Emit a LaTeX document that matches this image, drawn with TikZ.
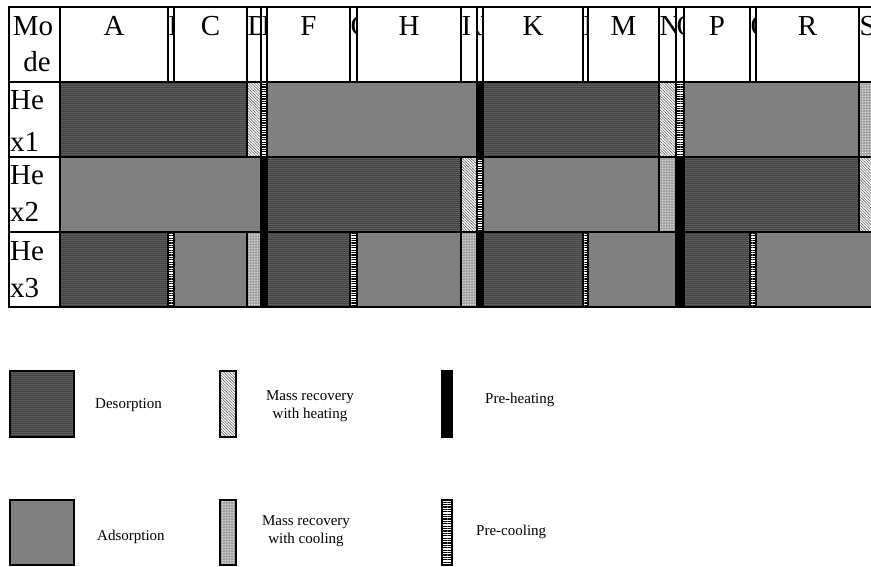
\documentclass[tikz,border=0pt]{standalone}
\usepackage{fontspec}
\setmainfont{Liberation Serif}
\usetikzlibrary{patterns.meta}

\tikzset{
  cell/.style={draw=black, line width=1.4pt},
  des/.style={fill=black!80,
    postaction={pattern={Dots[distance=2pt,radius=0.5pt]}, pattern color=white},
    postaction={draw=black, line width=1.4pt}},
  ads/.style={fill=black!50, draw=black, line width=1.4pt},
  mrheat/.style={fill=white,
    postaction={pattern={Lines[angle=-45,distance=2pt,line width=0.6pt]}, pattern color=black!60},
    postaction={draw=black, line width=1.4pt}},
  mrcool/.style={fill=black!40,
    postaction={pattern={Dots[distance=1.6pt,radius=0.45pt]}, pattern color=white},
    postaction={draw=black, line width=1.4pt}},
  preheat/.style={fill=black, draw=black, line width=1.4pt},
  precool/.style={fill=white,
    postaction={pattern={Lines[angle=0,distance=2.4pt,line width=1.1pt]}, pattern color=black},
    postaction={draw=black, line width=1.4pt}},
  bigtxt/.style={font=\fontsize{29}{35}\selectfont},
  legtxt/.style={font=\fontsize{15}{18}\selectfont, align=center},
}

\begin{document}
\begin{tikzpicture}[x=1pt, y=-1pt, every node/.style={inner sep=0pt}]
    \clip (0,0) rectangle (871,567);

    % ---------------- HEADER ROW ----------------
    \draw[cell] (9,7) rectangle (60,82);
    \node[bigtxt, anchor=base] (mo) at (33,36) {Mo};
    \node[bigtxt, anchor=base] (de) at (37,72) {de};

    \foreach \name/\xl/\xr in {A/60/168, C/174/247, F/267/350, H/357/461,
                               K/483/583, M/588/659, P/684/750, R/756/859} {
        \draw[cell] (\xl,7) rectangle (\xr,82);
        \node[bigtxt, anchor=base] (hd\name) at ({(\xl+\xr)/2},36) {\name};
    }
    % narrow columns, letters cut by the cell
    \foreach \name/\xl/\xr in {B/168/174, D/247/261, E/261/267, G/350/357, I/461/477,
                               J/477/483, L/583/588, N/659/676, O/676/684, Q/750/756, S/859/890} {
        \begin{scope}
            \clip (\xl,7) rectangle (\xr,82);
            \node[bigtxt, anchor=base west] (hd\name) at (\xl+0.5,36) {\name};
        \end{scope}
        \draw[cell] (\xl,7) rectangle (\xr,82);
    }

    % ---------------- ROW LABELS ----------------
    \draw[cell] (9,82) rectangle (60,157);
    \draw[cell] (9,157) rectangle (60,232);
    \draw[cell] (9,232) rectangle (60,307);
    \node[bigtxt, anchor=base west] (heA) at (10,110) {He};
    \node[bigtxt, anchor=base west] (xA) at (10,152) {x1};
    \node[bigtxt, anchor=base west] (heB) at (10,185) {He};
    \node[bigtxt, anchor=base west] (xB) at (10,222) {x2};
    \node[bigtxt, anchor=base west] (heC) at (10,260) {He};
    \node[bigtxt, anchor=base west] (xC) at (10,297) {x3};

    % ---------------- Hex1 ----------------
    \foreach \sty/\xl/\xr in {des/60/247, mrheat/247/261, precool/261/267, ads/267/477,
                              preheat/477/483, des/483/659, mrheat/659/676, precool/676/684,
                              ads/684/859, mrcool/859/890}
        \path[\sty] (\xl,82) rectangle (\xr,157);

    % ---------------- Hex2 ----------------
    \foreach \sty/\xl/\xr in {ads/60/261, preheat/261/267, des/267/461, mrheat/461/477,
                              precool/477/483, ads/483/659, mrcool/659/676, preheat/676/684,
                              des/684/859, mrheat/859/890}
        \path[\sty] (\xl,157) rectangle (\xr,232);

    % ---------------- Hex3 ----------------
    \foreach \sty/\xl/\xr in {des/60/168, precool/168/174, ads/174/247, mrcool/247/261,
                              preheat/261/267, des/267/350, precool/350/357, ads/357/461,
                              mrcool/461/477, preheat/477/483, des/483/583, precool/583/588,
                              ads/588/676, preheat/676/684, des/684/750, precool/750/756,
                              ads/756/890}
        \path[\sty] (\xl,232) rectangle (\xr,307);

    % outer frame
    \draw[line width=2pt] (890,7) -- (9,7) -- (9,307) -- (890,307);

    % ---------------- LEGEND ----------------
    \path[des] (10,371) rectangle (74,437);
    \node[legtxt, anchor=west] (ldes) at (95,405) {Desorption};
    \path[ads] (10,500) rectangle (74,565);
    \node[legtxt, anchor=west] (lads) at (97,537) {Adsorption};

    \path[mrheat] (220,371) rectangle (236,437);
    \node[legtxt] (lmrh) at (310,406) {Mass recovery\\with heating};
    \path[mrcool] (220,500) rectangle (236,565);
    \node[legtxt] (lmrc) at (306,531) {Mass recovery\\with cooling};

    \path[preheat] (442,371) rectangle (452,437);
    \node[legtxt, anchor=west] (lph) at (485,400) {Pre-heating};
    \path[precool] (442,500) rectangle (452,565);
    \node[legtxt, anchor=west] (lpc) at (476,532) {Pre-cooling};
\end{tikzpicture}
\end{document}
